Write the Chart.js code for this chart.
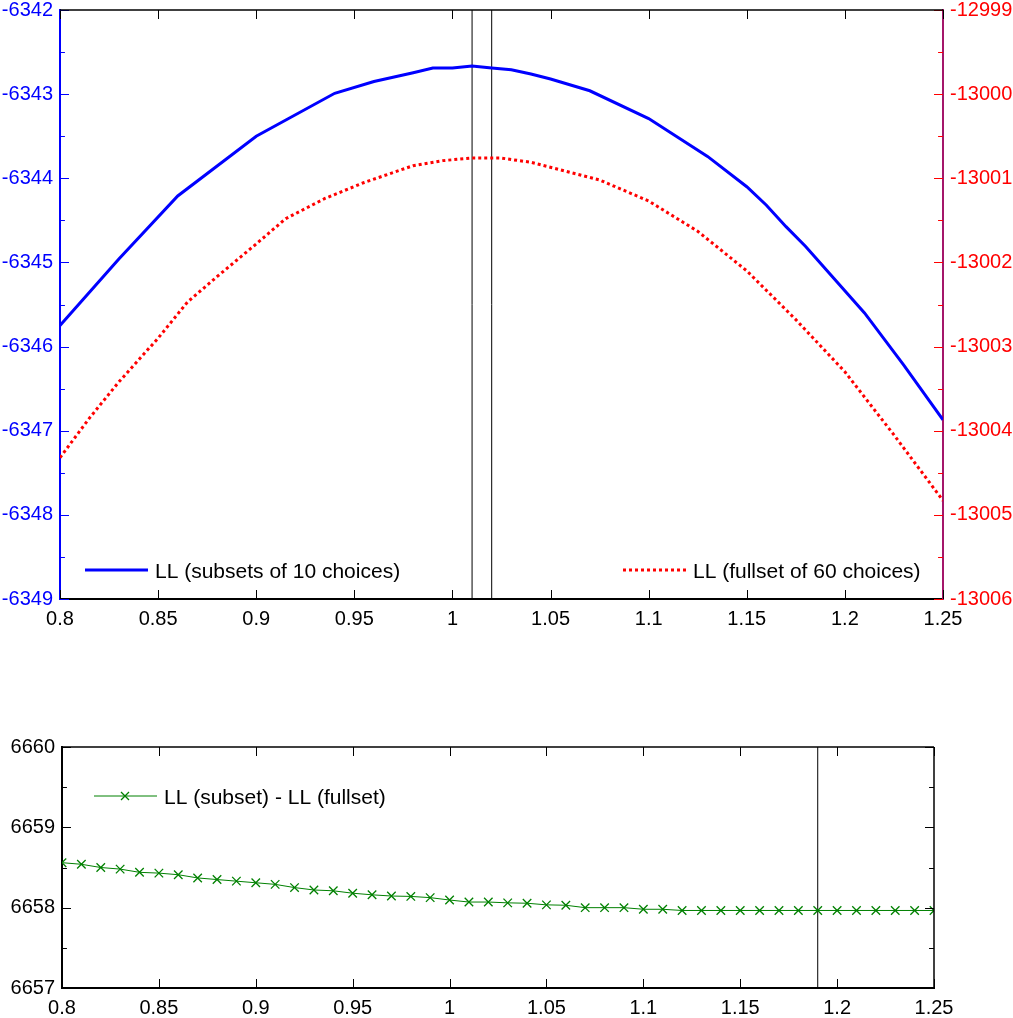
<!DOCTYPE html>
<html>
<head>
<meta charset="utf-8">
<script src="https://cdn.jsdelivr.net/npm/chart.js@4.4.1/dist/chart.umd.min.js"></script>
<style>
    body { margin: 0; background: #fff; }
    canvas { position: absolute; left: 0; }
    #chart_top { top: 0; }
    #chart_bottom { top: 700px; }
</style>
</head>
<body>
<canvas id="chart_top" width="1013" height="640"></canvas>
<canvas id="chart_bottom" width="1013" height="318"></canvas>
<script>
// x axis (shared)
const xTicks      = [0.8, 0.85, 0.9, 0.95, 1, 1.05, 1.1, 1.15, 1.2, 1.25];
const xTickLabels = ['0.8', '0.85', '0.9', '0.95', '1', '1.05', '1.1', '1.15', '1.2', '1.25'];

// top plot, left axis
const leftTicks  = [-6349, -6348, -6347, -6346, -6345, -6344, -6343, -6342];
// top plot, right axis
const rightTicks = [-13006, -13005, -13004, -13003, -13002, -13001, -13000, -12999];
// bottom plot
const diffTicks  = [6657, 6658, 6659, 6660];

// LL (subsets of 10 choices)
const subsetX  = [0.80, 0.83, 0.86, 0.90, 0.94, 0.96, 0.98, 0.99, 1.00, 1.01, 1.02, 1.03, 1.04, 1.05, 1.07,
                  1.10, 1.13, 1.15, 1.16, 1.17, 1.18, 1.21, 1.23, 1.25];
const subsetLL = [-6345.75, -6344.96, -6344.21, -6343.50, -6342.99, -6342.85, -6342.745, -6342.69, -6342.69,
                  -6342.665, -6342.69, -6342.71, -6342.76, -6342.82, -6342.96, -6343.29, -6343.74,
                  -6344.10, -6344.32, -6344.575, -6344.81, -6345.60, -6346.22, -6346.87];

// LL (fullset of 60 choices)
const fullsetX  = [0.80, 0.815, 0.83, 0.85, 0.865, 0.88, 0.90, 0.915, 0.935, 0.955, 0.98, 0.995, 1.01,
                   1.025, 1.04, 1.06, 1.075, 1.085, 1.10, 1.125, 1.15, 1.175, 1.20, 1.225, 1.25];
const fullsetLL = [-13004.32, -13003.85, -13003.42, -13002.90, -13002.47, -13002.17, -13001.78,
                   -13001.48, -13001.24, -13001.05, -13000.85, -13000.79, -13000.76, -13000.76,
                   -13000.81, -13000.93, -13001.02, -13001.12, -13001.27, -13001.63, -13002.10,
                   -13002.68, -13003.30, -13004.05, -13004.83];

// LL (subset) - LL (fullset)
const diffX  = [0.80, 0.81, 0.82, 0.83, 0.84, 0.85, 0.86, 0.87, 0.88, 0.89,
                0.90, 0.91, 0.92, 0.93, 0.94, 0.95, 0.96, 0.97, 0.98, 0.99,
                1.00, 1.01, 1.02, 1.03, 1.04, 1.05, 1.06, 1.07, 1.08, 1.09,
                1.10, 1.11, 1.12, 1.13, 1.14, 1.15, 1.16, 1.17, 1.18, 1.19,
                1.20, 1.21, 1.22, 1.23, 1.24, 1.25];
const diffLL = [6658.56, 6658.54, 6658.50, 6658.48, 6658.44, 6658.43, 6658.41, 6658.37, 6658.35, 6658.33,
                6658.31, 6658.29, 6658.25, 6658.22, 6658.21, 6658.18, 6658.16, 6658.145, 6658.14, 6658.125,
                6658.095, 6658.07, 6658.07, 6658.06, 6658.055, 6658.035, 6658.03, 6658.00, 6658.00, 6658.00,
                6657.98, 6657.98, 6657.965, 6657.965, 6657.965, 6657.965, 6657.965, 6657.965, 6657.965, 6657.965,
                6657.965, 6657.965, 6657.965, 6657.965, 6657.965, 6657.965];

// vertical marker lines
const markTop    = [1.01, 1.02];
const markBottom = [1.19];

const FONT = "'Liberation Sans', Arial, Helvetica, sans-serif";
Chart.defaults.font.family = FONT;
Chart.defaults.font.size = 20;

// minor ticks halfway between majors
function halves(ticks) {
    return ticks.slice(1).map((v, i) => (v + ticks[i]) / 2);
}

function pairs(xs, ys) {
    return xs.map((x, i) => ({ x: x, y: ys[i] }));
}

function vline(x, ticks, axisId) {
    return {
        data: [{ x: x, y: ticks[0] }, { x: x, y: ticks[ticks.length - 1] }],
        yAxisID: axisId,
        borderColor: '#000',
        borderWidth: 1,
        pointRadius: 0
    };
}

// matlab style: ticks inside the box, on both sides
const boxTicks = {
    id: 'boxTicks',
    afterDatasetsDraw(chart, args, opts) {
        const ctx = chart.ctx;
        const a = chart.chartArea;
        const len = opts.len;
        const seg = (x0, y0, x1, y1) => {
            ctx.beginPath();
            ctx.moveTo(x0, y0);
            ctx.lineTo(x1, y1);
            ctx.stroke();
        };
        ctx.save();
        ctx.lineWidth = 1;

        const xs = chart.scales.x;
        ctx.strokeStyle = opts.xColor;
        xs.ticks.forEach(t => {
            const px = Math.round(xs.getPixelForValue(t.value)) + 0.5;
            seg(px, a.bottom, px, a.bottom - len);
            seg(px, a.top, px, a.top + len);
        });

        opts.yAxes.forEach(y => {
            const sc = chart.scales[y.scale];
            const edge = y.side === 'left' ? a.left : a.right;
            const dir = y.side === 'left' ? 1 : -1;
            ctx.strokeStyle = y.color;
            sc.ticks.forEach(t => {
                const py = Math.round(sc.getPixelForValue(t.value)) + 0.5;
                seg(edge, py, edge + dir * len, py);
            });
            y.minor.forEach(v => {
                const py = Math.round(sc.getPixelForValue(v)) + 0.5;
                seg(edge, py, edge + dir * len * 0.55, py);
            });
        });

        ctx.strokeStyle = '#000';
        ctx.lineWidth = 1.5;
        seg(a.left, a.top, a.right, a.top);
        if (opts.rightBorder) {
            seg(a.right, a.top, a.right, a.bottom);
        }
        ctx.restore();
    }
};

// legend boxes drawn inside the plot
const innerLegend = {
    id: 'innerLegend',
    afterDraw(chart, args, opts) {
        const ctx = chart.ctx;
        const a = chart.chartArea;
        ctx.save();
        opts.items.forEach(it => {
            const x0 = it.fromRight ? a.right - it.dx : a.left + it.dx;
            const y = it.fromBottom ? a.bottom - it.dy : a.top + it.dy;
            ctx.strokeStyle = it.color;
            ctx.lineWidth = it.width;
            ctx.setLineDash(it.dash || []);
            ctx.beginPath();
            ctx.moveTo(x0, y);
            ctx.lineTo(x0 + 63, y);
            ctx.stroke();
            ctx.setLineDash([]);
            if (it.marker) {
                const cx = x0 + 31, r = 4;
                ctx.lineWidth = 1.3;
                ctx.beginPath();
                ctx.moveTo(cx - r, y - r); ctx.lineTo(cx + r, y + r);
                ctx.moveTo(cx + r, y - r); ctx.lineTo(cx - r, y + r);
                ctx.stroke();
            }
            ctx.fillStyle = '#000';
            ctx.font = '21px ' + FONT;
            ctx.textBaseline = 'middle';
            ctx.fillText(it.text, x0 + 70, y + 2);
        });
        ctx.restore();
    }
};

function xScale(height) {
    return {
        type: 'linear',
        position: 'bottom',
        min: 0.8,
        max: 1.25,
        afterBuildTicks: s => { s.ticks = xTicks.map(v => ({ value: v })); },
        afterFit: s => { s.height = height; s.paddingLeft = 0; s.paddingRight = 0; },
        ticks: {
            color: '#000',
            padding: 8,
            autoSkip: false,
            maxRotation: 0,
            callback: (v, i) => xTickLabels[i]
        },
        grid: { display: false, drawTicks: false },
        border: { display: true, color: '#000', width: 2 }
    };
}

function yScale(ticks, pos, width, color, borderColor) {
    return {
        type: 'linear',
        position: pos,
        min: ticks[0],
        max: ticks[ticks.length - 1],
        afterBuildTicks: s => { s.ticks = ticks.map(v => ({ value: v })); },
        afterFit: s => { s.width = width; s.paddingTop = 0; s.paddingBottom = 0; },
        ticks: {
            color: color,
            padding: 7,
            autoSkip: false,
            callback: v => String(v)
        },
        grid: { display: false, drawTicks: false },
        border: { display: true, color: borderColor, width: 2 }
    };
}

// top: two log-likelihood curves on two y axes
const chart_top = new Chart(document.getElementById('chart_top'), {
    type: 'line',
    data: {
        datasets: [
            {
                label: 'LL (subsets of 10 choices)',
                data: pairs(subsetX, subsetLL),
                yAxisID: 'y',
                borderColor: '#0000ff',
                borderWidth: 3,
                pointRadius: 0
            },
            {
                label: 'LL (fullset of 60 choices)',
                data: pairs(fullsetX, fullsetLL),
                yAxisID: 'y2',
                borderColor: '#ff0000',
                borderWidth: 3,
                borderDash: [3, 3],
                pointRadius: 0
            },
            ...markTop.map(m => vline(m, leftTicks, 'y'))
        ]
    },
    options: {
        responsive: false,
        animation: false,
        layout: { padding: { top: 10, left: 0, right: 0, bottom: 0 } },
        plugins: {
            legend: { display: false },
            tooltip: { enabled: false },
            boxTicks: {
                len: 9,
                xColor: '#000',
                rightBorder: false,
                yAxes: [
                    { scale: 'y', side: 'left', color: '#0000ff', minor: halves(leftTicks) },
                    { scale: 'y2', side: 'right', color: '#ff0000', minor: halves(rightTicks) }
                ]
            },
            innerLegend: {
                items: [
                    { text: 'LL (subsets of 10 choices)', color: '#0000ff', width: 3,
                      dx: 25, dy: 29, fromBottom: true },
                    { text: 'LL (fullset of 60 choices)', color: '#ff0000', width: 3, dash: [3, 3],
                      dx: 320, dy: 29, fromBottom: true, fromRight: true }
                ]
            }
        },
        scales: {
            x: xScale(41),
            y: yScale(leftTicks, 'left', 60, '#0000ff', '#0000ff'),
            y2: yScale(rightTicks, 'right', 70, '#ff0000', '#a4176a')
        }
    },
    plugins: [boxTicks, innerLegend]
});

// bottom: difference of the two
const chart_bottom = new Chart(document.getElementById('chart_bottom'), {
    type: 'line',
    data: {
        datasets: [
            {
                label: 'LL (subset) - LL (fullset)',
                data: pairs(diffX, diffLL),
                borderColor: '#008000',
                borderWidth: 1,
                pointStyle: 'crossRot',
                pointRadius: 6,
                pointBorderWidth: 1.3,
                pointBorderColor: '#008000'
            },
            ...markBottom.map(m => vline(m, diffTicks, 'y'))
        ]
    },
    options: {
        responsive: false,
        animation: false,
        layout: { padding: { top: 47, left: 0, right: 79, bottom: 0 } },
        plugins: {
            legend: { display: false },
            tooltip: { enabled: false },
            boxTicks: {
                len: 9,
                xColor: '#000',
                rightBorder: true,
                yAxes: [
                    { scale: 'y', side: 'left', color: '#000', minor: halves(diffTicks) },
                    { scale: 'y', side: 'right', color: '#000', minor: halves(diffTicks) }
                ]
            },
            innerLegend: {
                items: [
                    { text: 'LL (subset) - LL (fullset)', color: '#008000', width: 1, marker: true,
                      dx: 32, dy: 49 }
                ]
            }
        },
        scales: {
            x: xScale(30),
            y: yScale(diffTicks, 'left', 62, '#000', '#000')
        }
    },
    plugins: [boxTicks, innerLegend]
});
</script>
</body>
</html>
